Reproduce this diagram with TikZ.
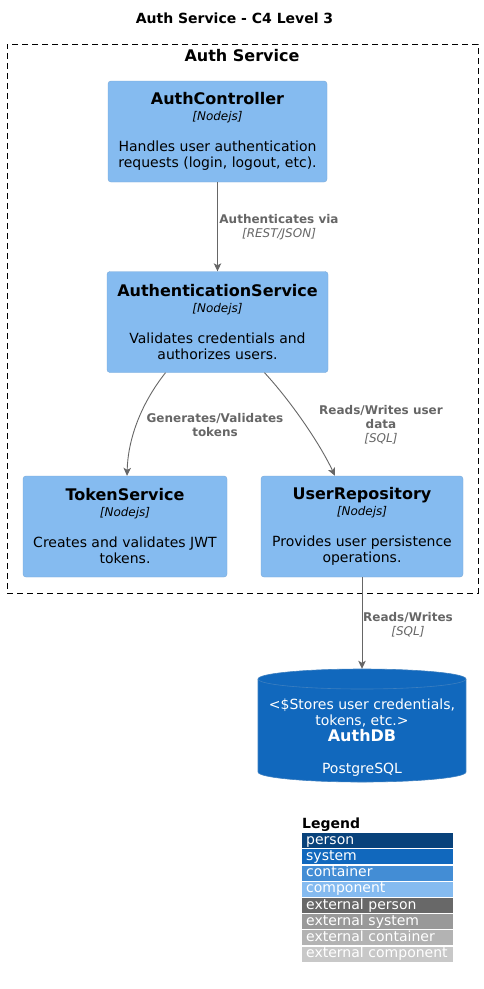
\documentclass[tikz,border=0pt]{standalone}
\usepackage{fontspec}
\setmainfont{DejaVu Sans}
\usetikzlibrary{arrows.meta}

\definecolor{compfill}{HTML}{85BBF0}
\definecolor{compline}{HTML}{78A8D8}
\definecolor{relgrey}{HTML}{666666}
\definecolor{dbfill}{HTML}{1168BD}
\definecolor{dbline}{HTML}{3C7FC0}
\definecolor{lgperson}{HTML}{08427B}
\definecolor{lgsystem}{HTML}{1168BD}
\definecolor{lgcontainer}{HTML}{438DD5}
\definecolor{lgcomponent}{HTML}{85BBF0}
\definecolor{lgextperson}{HTML}{686868}
\definecolor{lgextsystem}{HTML}{999999}
\definecolor{lgextcontainer}{HTML}{B3B3B3}
\definecolor{lgextcomponent}{HTML}{C8C8C8}

\tikzset{
  component/.style={rectangle, rounded corners=3pt, draw=compline, fill=compfill,
    minimum height=101pt, align=center, font=\fontsize{14}{16}\selectfont},
  boundary/.style={rectangle, draw=black, dash pattern=on 6pt off 4pt, line width=0.8pt},
  rel/.style={draw=relgrey, line width=0.9pt, -{Stealth[length=8pt,width=7.5pt,inset=2pt]}},
  rellabel/.style={text=relgrey, align=center, inner sep=0pt,
    font=\fontsize{12}{14}\selectfont\bfseries},
  legendrow/.style={anchor=north west, text width=143pt, align=left, text height=10pt, text depth=3pt,
    inner ysep=1pt, inner xsep=4pt, text=white, font=\fontsize{14}{16}\selectfont}
}

\begin{document}
\begin{tikzpicture}[x=1pt,y=-1pt]
        \useasboundingbox (0,0) rectangle (483,989);

        \node[font=\fontsize{14}{16}\selectfont\bfseries] (title) at (234.5,18) {Auth Service - C4 Level 3};

        \node[boundary, minimum width=471pt, minimum height=549pt] (authsvc) at (242.5,318.5) {};
        \node[font=\fontsize{16}{18}\selectfont\bfseries] (authsvclabel) at (242,56) {Auth Service};

        \node[component, minimum width=219pt] (ctrl) at (217.5,131.5)
            {{\fontsize{16}{19}\selectfont\bfseries AuthController}\\
             {\fontsize{12}{14}\selectfont\itshape [Nodejs]}\\[15pt]
             Handles user authentication\\ requests (login, logout, etc).};
        \node[component, minimum width=221pt] (authn) at (217.5,322)
            {{\fontsize{16}{19}\selectfont\bfseries AuthenticationService}\\
             {\fontsize{12}{14}\selectfont\itshape [Nodejs]}\\[15pt]
             Validates credentials and\\ authorizes users.};
        \node[component, minimum width=204pt] (token) at (125,526.5)
            {{\fontsize{16}{19}\selectfont\bfseries TokenService}\\
             {\fontsize{12}{14}\selectfont\itshape [Nodejs]}\\[15pt]
             Creates and validates JWT\\ tokens.};
        \node[component, minimum width=202pt] (userrepo) at (362,526.5)
            {{\fontsize{16}{19}\selectfont\bfseries UserRepository}\\
             {\fontsize{12}{14}\selectfont\itshape [Nodejs]}\\[15pt]
             Provides user persistence\\ operations.};

        % database cylinder
        \node[minimum width=208pt, minimum height=113pt] (authdb) at (362,725.5) {};
        \fill[dbfill] (362,772) ellipse [x radius=104pt, y radius=10pt];
        \fill[dbfill] (258,679) rectangle (466,772);
        \fill[dbfill] (362,679) ellipse [x radius=104pt, y radius=10pt];
        \draw[dbline, line width=0.6pt] (258,679) -- (258,772)
            arc [start angle=180, end angle=360, x radius=104pt, y radius=10pt] -- (466,679);
        \draw[dbline, line width=0.6pt] (362,679) ellipse [x radius=104pt, y radius=10pt];
        \node[text=white, align=center, font=\fontsize{14}{16}\selectfont] (authdbtext) at (362,737.5)
            {<\$Stores user credentials,\\ tokens, etc.>\\
             {\fontsize{16}{19}\selectfont\bfseries AuthDB}\\[16pt] PostgreSQL};

        % relations
        \draw[rel] (ctrl) -- (authn);
        \draw[rel] ([xshift=-52pt]authn.south) .. controls (140,405) and (128,440) .. ([xshift=2pt]token.north);
        \draw[rel] ([xshift=47pt]authn.south) .. controls (288,398) and (318,440) .. ([xshift=-27pt]userrepo.north);
        \draw[rel] (userrepo) -- (authdb);

        \node[rellabel] (lbl1) at (279,227) {Authenticates via\\{\mdseries\itshape [REST/JSON]}};
        \node[rellabel] (lbl2) at (215,425) {Generates/Validates\\tokens};
        \node[rellabel] (lbl3) at (381,424.5) {Reads/Writes user\\data\\{\mdseries\itshape [SQL]}};
        \node[rellabel] (lbl4) at (408,625) {Reads/Writes\\{\mdseries\itshape [SQL]}};

        % legend
        \node[anchor=west, inner sep=0pt, font=\fontsize{14}{16}\selectfont\bfseries] (legend) at (302,825) {Legend};
        \foreach \name/\col [count=\i] in {person/lgperson, system/lgsystem, container/lgcontainer,
            component/lgcomponent, external person/lgextperson, external system/lgextsystem,
            external container/lgextcontainer, external component/lgextcomponent}
            \node[legendrow, fill=\col] (leg\i) at (302,{833+16.2*(\i-1)}) {\name};

    \end{tikzpicture}
\end{document}
